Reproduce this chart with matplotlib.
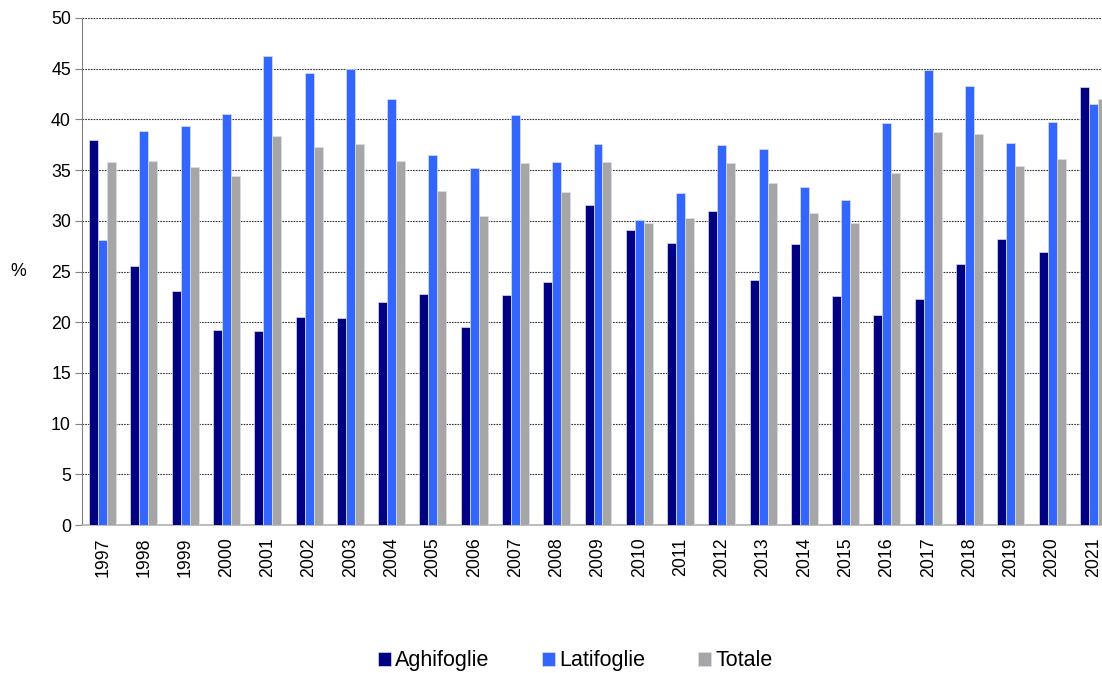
import numpy as np
import matplotlib.pyplot as plt

plt.rcParams['font.family'] = ['Liberation Sans', 'DejaVu Sans']

years = [str(y) for y in range(1997, 2022)]
aghifoglie = [38.0, 25.5, 23.1, 19.2, 19.1, 20.5, 20.4, 22.0, 22.8, 19.5, 22.7, 24.0, 31.6,
              29.1, 27.8, 31.0, 24.2, 27.7, 22.6, 20.7, 22.3, 25.7, 28.2, 26.9, 43.2]
latifoglie = [28.1, 38.9, 39.3, 40.5, 46.3, 44.6, 45.0, 42.0, 36.5, 35.2, 40.4, 35.8, 37.6,
              30.1, 32.7, 37.5, 37.1, 33.3, 32.1, 39.6, 44.9, 43.3, 37.7, 39.7, 41.5]
totale = [35.8, 35.9, 35.3, 34.4, 38.4, 37.3, 37.6, 35.9, 32.9, 30.5, 35.7, 32.8, 35.8,
          29.8, 30.3, 35.7, 33.7, 30.8, 29.8, 34.7, 38.8, 38.6, 35.4, 36.1, 42.0]

series = [('Aghifoglie', aghifoglie, '#000080'),
          ('Latifoglie', latifoglie, '#3366FF'),
          ('Totale', totale, '#A6A6A6')]

fig = plt.figure(figsize=(11.02, 6.73), dpi=100)
# axes runs slightly past the right edge, like the source image
ax = fig.add_axes([82 / 1102, 1 - 525 / 673, 1032 / 1102, 507 / 673])

x = np.arange(len(years))
w = 0.218
for i, (name, vals, col) in enumerate(series):
    ax.bar(x + (i - 1) * w, vals, width=w, color=col, label=name,
           edgecolor='#D8DEF0', linewidth=0.5, zorder=3)

ax.set_xlim(-0.5, len(years) - 0.5)
ax.set_ylim(0, 50)
ax.set_yticks(range(0, 51, 5))
ax.set_xticks(x)
ax.set_xticklabels(years, rotation=90, fontsize=12.8)
ax.tick_params(axis='y', labelsize=12.8, length=5, color='#808080', pad=3)
ax.tick_params(axis='x', length=0, pad=9)
ax.yaxis.grid(True, color='#333333', linestyle=(0, (1.5, 1)), linewidth=0.8, zorder=0)

for s in ['top', 'right']:
    ax.spines[s].set_visible(False)
ax.spines['left'].set_color('#808080')
ax.spines['bottom'].set_color('#B0B0B0')
ax.spines['bottom'].set_linewidth(1.2)

fig.text(18 / 1102, 1 - 272 / 673, '%', fontsize=12.8, ha='center', va='center')

ax.legend(loc='center', bbox_to_anchor=(0.5 * 1102 / 1032 - 58 / 1032, -0.268), ncol=3,
          frameon=False, fontsize=15.5, handlelength=0.6, handleheight=0.6,
          handletextpad=0.2, columnspacing=2.45)

fig.savefig('out.png', dpi=100)
